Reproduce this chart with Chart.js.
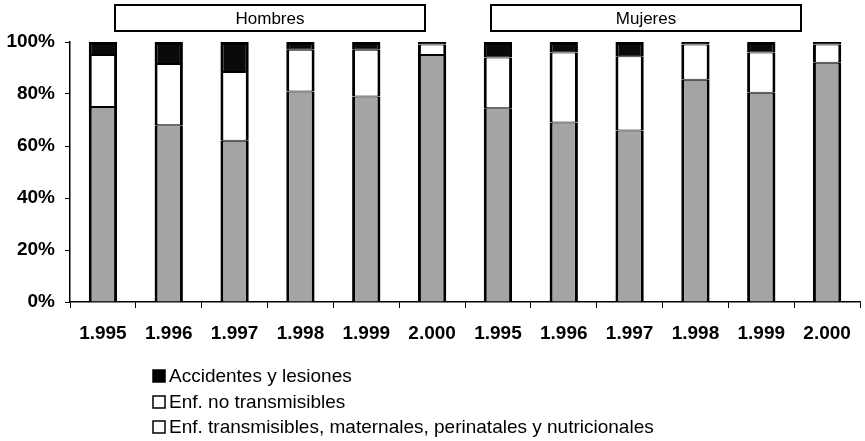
<!DOCTYPE html>
<html>
<head>
<meta charset="utf-8">
<script src="https://cdn.jsdelivr.net/npm/chart.js@4.4.1/dist/chart.umd.min.js"></script>
<style>
html,body{margin:0;padding:0;background:#fff;}
#wrap{width:865px;height:441px;position:relative;}
</style>
</head>
<body>
<div id="wrap"><canvas id="c" width="865" height="441"></canvas></div>
<script>
// ---- data ----
const categories = ['1.995','1.996','1.997','1.998','1.999','2.000','1.995','1.996','1.997','1.998','1.999','2.000'];
const groups = ['Hombres','Mujeres'];
const seriesNames = ['Enf. transmisibles, maternales, perinatales y nutricionales','Enf. no transmisibles','Accidentes y lesiones'];
const transmisibles   = [75, 68, 62, 81, 79, 95, 74.5, 69, 66, 85.5, 80.5, 92];
const noTransmisibles = [20, 23.5, 26.5, 16, 18, 4, 19.5, 27, 28.5, 13.5, 15.5, 7];
const accidentes      = [5, 8.5, 11.5, 3, 3, 1, 6, 4, 5.5, 1, 4, 1];
const yTicks = [0, 20, 40, 60, 80, 100];

const FONT = "'Liberation Sans', Arial, sans-serif";

const headerPlugin = {
  id: 'headers',
  afterDraw(chart) {
    const ctx = chart.ctx;
    const x = chart.scales.x;
    const spans = [[0.18, 4.89], [5.9, 10.6]];
    ctx.save();
    spans.forEach((s, i) => {
      const x0 = Math.round(x.getPixelForValue(s[0]));
      const x1 = Math.round(x.getPixelForValue(s[1]));
      ctx.fillStyle = '#fff';
      ctx.strokeStyle = '#000';
      ctx.lineWidth = 2;
      ctx.fillRect(x0, 5, x1 - x0, 26);
      ctx.strokeRect(x0, 5, x1 - x0, 26);
      ctx.fillStyle = '#000';
      ctx.font = '17px ' + FONT;
      ctx.textAlign = 'center';
      ctx.textBaseline = 'middle';
      ctx.fillText(groups[i], (x0 + x1) / 2, 19);
    });
    // legend
    const items = [
      {label: seriesNames[2], fill: '#000'},
      {label: seriesNames[1], fill: '#fff'},
      {label: seriesNames[0], fill: '#fff'}
    ];
    const rows = [376, 402, 427];
    items.forEach((it, i) => {
      const y = rows[i];
      ctx.fillStyle = it.fill;
      ctx.fillRect(153, y - 6, 12, 12);
      ctx.strokeStyle = '#000';
      ctx.lineWidth = 1.5;
      ctx.strokeRect(153, y - 6, 12, 12);
      ctx.fillStyle = '#000';
      ctx.font = '19px ' + FONT;
      ctx.textAlign = 'left';
      ctx.textBaseline = 'middle';
      ctx.fillText(it.label, 169, y + 1);
    });
    ctx.restore();
  }
};

const common = {borderColor: '#000', borderSkipped: false, categoryPercentage: 1.0, barPercentage: 0.43};

new Chart(document.getElementById('c'), {
  type: 'bar',
  data: {
    labels: categories,
    datasets: [
      Object.assign({label: seriesNames[0], data: transmisibles, backgroundColor: '#a4a4a4',
        borderWidth: {left: 3, right: 3, top: 1, bottom: 0}}, common),
      Object.assign({label: seriesNames[1], data: noTransmisibles, backgroundColor: '#ffffff',
        borderWidth: {left: 3, right: 3, top: 1, bottom: 1}}, common),
      Object.assign({label: seriesNames[2], data: accidentes, backgroundColor: '#0a0a0a',
        borderWidth: {left: 3, right: 3, top: 3, bottom: 1}}, common)
    ]
  },
  options: {
    responsive: false,
    animation: false,
    devicePixelRatio: 1,
    layout: {padding: {top: 42, bottom: 99, left: 0, right: 3}},
    plugins: {legend: {display: false}, tooltip: {enabled: false}},
    scales: {
      x: {
        stacked: true,
        grid: {drawOnChartArea: false, tickLength: 6, color: '#000', lineWidth: 1, offset: true},
        border: {color: '#000', width: 1.5},
        ticks: {color: '#000', font: {size: 19, family: FONT, weight: 'bold'}, padding: 14, maxRotation: 0, autoSkip: false},
        afterFit(s) { s.height = 40; }
      },
      y: {
        stacked: true,
        min: 0, max: 100,
        afterBuildTicks(s) { s.ticks = yTicks.map(v => ({value: v})); },
        grid: {drawOnChartArea: false, tickLength: 5, color: '#000', lineWidth: 1},
        border: {color: '#000', width: 1.5},
        ticks: {color: '#000', font: {size: 19, family: FONT, weight: 'bold'}, padding: 10, callback: v => v + '%'},
        afterFit(s) { s.width = 70; }
      }
    }
  },
  plugins: [headerPlugin]
});
</script>
</body>
</html>
